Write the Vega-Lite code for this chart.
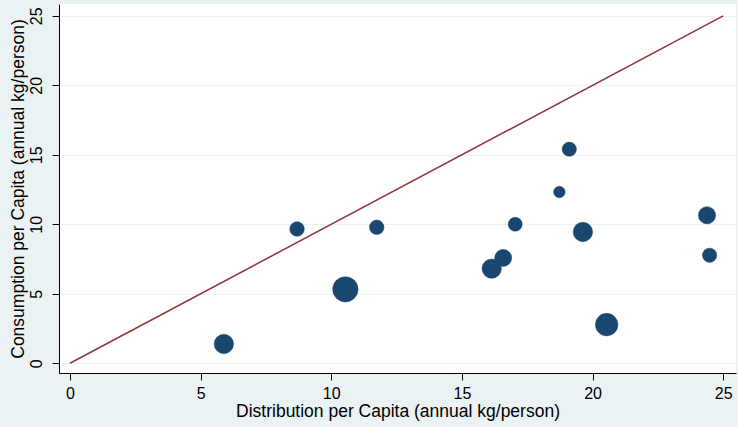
{
  "$schema": "https://vega.github.io/schema/vega-lite/v6.json",
  "width": 677,
  "height": 369,
  "autosize": {"type": "none"},
  "padding": {"left": 59, "top": 4, "right": 2, "bottom": 54},
  "background": "#eaf2f3",
  "config": {
    "font": "Liberation Sans",
    "view": {"fill": "white", "stroke": null},
    "axis": {
      "domainColor": "black",
      "domainWidth": 1,
      "tickColor": "black",
      "tickWidth": 1,
      "tickSize": 7,
      "labelColor": "black",
      "titleColor": "black",
      "labelFontSize": 16,
      "titleFontSize": 17.5,
      "titleFontWeight": "normal",
      "labelFont": "Liberation Sans",
      "titleFont": "Liberation Sans"
    }
  },
  "datasets": {
    "countries": [
      {"distribution": 5.89, "consumption": 1.39, "weight": 48},
      {"distribution": 8.69, "consumption": 9.66, "weight": 27},
      {"distribution": 10.54, "consumption": 5.32, "weight": 82},
      {"distribution": 11.74, "consumption": 9.78, "weight": 27},
      {"distribution": 16.14, "consumption": 6.81, "weight": 48},
      {"distribution": 16.58, "consumption": 7.58, "weight": 37},
      {"distribution": 17.04, "consumption": 10.0, "weight": 25},
      {"distribution": 18.73, "consumption": 12.32, "weight": 17},
      {"distribution": 19.11, "consumption": 15.4, "weight": 26},
      {"distribution": 19.63, "consumption": 9.45, "weight": 48},
      {"distribution": 20.54, "consumption": 2.78, "weight": 65},
      {"distribution": 24.38, "consumption": 10.65, "weight": 38},
      {"distribution": 24.48, "consumption": 7.77, "weight": 26}
    ],
    "equality": [
      {"distribution": 0, "consumption": 0},
      {"distribution": 25, "consumption": 25}
    ]
  },
  "layer": [
    {
      "data": {"name": "equality"},
      "mark": {"type": "line", "color": "#90353b", "strokeWidth": 1.5, "clip": true},
      "encoding": {
        "x": {"field": "distribution", "type": "quantitative"},
        "y": {"field": "consumption", "type": "quantitative"}
      }
    },
    {
      "data": {"name": "countries"},
      "mark": {"type": "circle", "color": "#1a476f", "opacity": 1, "stroke": "#1a476f", "strokeWidth": 0.5},
      "encoding": {
        "x": {"field": "distribution", "type": "quantitative"},
        "y": {"field": "consumption", "type": "quantitative"},
        "size": {"field": "weight", "type": "quantitative", "scale": {"domain": [0, 82], "range": [0, 642]}, "legend": null}
      }
    }
  ],
  "resolve": {"scale": {"x": "shared", "y": "shared"}},
  "encoding": {
    "x": {
      "field": "distribution",
      "type": "quantitative",
      "title": "Distribution per Capita (annual kg/person)",
      "scale": {"domain": [-0.42, 25.49], "nice": false, "zero": false},
      "axis": {"values": [0, 5, 10, 15, 20, 25], "grid": false, "labelPadding": 5, "titlePadding": 1, "labelFlush": false}
    },
    "y": {
      "field": "consumption",
      "type": "quantitative",
      "title": "Consumption per Capita (annual kg/person)",
      "scale": {"domain": [-0.7, 25.85], "nice": false, "zero": false},
      "axis": {"values": [0, 5, 10, 15, 20, 25], "grid": true, "gridColor": "#eaf2f3", "gridWidth": 1, "labelAngle": -90, "labelAlign": "center", "labelBaseline": "bottom", "labelPadding": 8, "titlePadding": 1, "labelFlush": false}
    }
  }
}
